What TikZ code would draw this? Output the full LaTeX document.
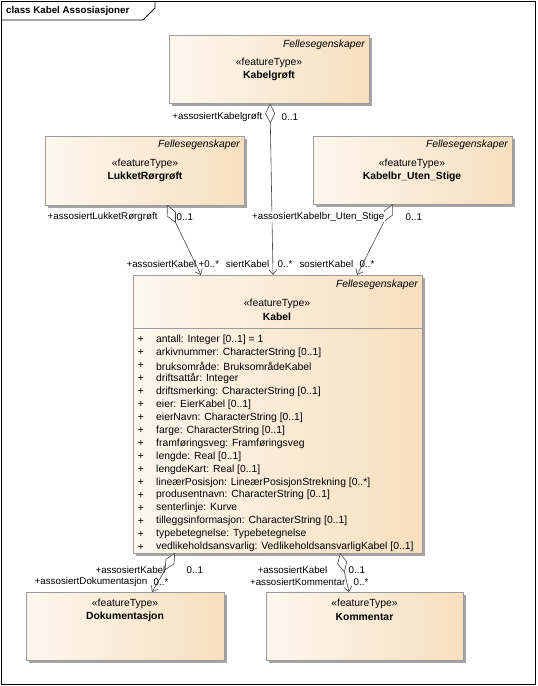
\documentclass[tikz,border=0pt]{standalone}
\usepackage{fontspec}
\setmainfont{Liberation Sans}
\usetikzlibrary{arrows.meta,shadows}
\definecolor{boxl}{RGB}{253,247,238}
\definecolor{boxr}{RGB}{247,223,190}
\definecolor{boxb}{RGB}{155,155,155}
\definecolor{shad}{RGB}{165,165,165}
\definecolor{linec}{RGB}{70,70,70}
\newcommand\lblfont{\fontsize{9.8}{11}\selectfont}
\newcommand\boxfont{\fontsize{10.4}{12}\selectfont}
\tikzset{
  cls/.style={draw=boxb, line width=0.8bp, left color=boxl, right color=boxr, anchor=north west, inner sep=0,
    general shadow={fill=shad, shadow xshift=3bp, shadow yshift=-3bp}},
  lbl/.style={font=\lblfont, inner sep=0.5bp, text=black},
  ital/.style={font=\boxfont\itshape, inner sep=0, anchor=east},
  stereo/.style={font=\boxfont, inner sep=0},
  cname/.style={font=\boxfont\bfseries, inner sep=0},
  attr/.style={font=\boxfont, inner sep=0},
  assoc/.style={draw=linec, line width=0.6bp,
    {Diamond[open,fill=white,length=20bp,width=10bp]}-{Straight Barb[length=5bp,width=8bp]}},
}
\begin{document}
\begin{tikzpicture}[x=1bp,y=-1bp]
\useasboundingbox (0,0) rectangle (538,686);
% frame
\draw[line width=0.8bp] (1.5,1.5) rectangle (535.5,684.5);
\draw[line width=0.8bp] (1.5,20) -- (143,20) -- (155,8) -- (155,1.5);
\node[anchor=west, font=\lblfont\bfseries, inner sep=0] (title) at (6,10.5) {class Kabel Assosiasjoner};

% classes
\node[cls, minimum width=200bp, minimum height=68bp] (kabelgroft) at (169,35) {};
\node[ital] (kgf) at (365,45) {Fellesegenskaper};
\node[stereo] (kgs) at (269,63) {«featureType»};
\node[cname] (kgn) at (269,76) {Kabelgrøft};

\node[cls, minimum width=199bp, minimum height=69bp] (lukket) at (45,136) {};
\node[ital] (lrf) at (240,145) {Fellesegenskaper};
\node[stereo] (lrs) at (145,164) {«featureType»};
\node[cname] (lrn) at (145,177) {LukketRørgrøft};

\node[cls, minimum width=199bp, minimum height=68bp] (kabelbr) at (313,136) {};
\node[ital] (kbf) at (508,145) {Fellesegenskaper};
\node[stereo] (kbs) at (412,164) {«featureType»};
\node[cname] (kbn) at (412,177) {Kabelbr\_Uten\_Stige};

\node[cls, minimum width=289bp, minimum height=278bp] (kabel) at (133,275) {};
\node[ital] (kaf) at (418,285) {Fellesegenskaper};
\node[stereo] (kas) at (277,304) {«featureType»};
\node[cname] (kan) at (277,317) {Kabel};
\draw[boxb, line width=0.8bp] (133,328.5) -- (422,328.5);
\foreach \t [count=\i from 0] in {
  {antall: Integer [0..1] = 1},
  {arkivnummer: CharacterString [0..1]},
  {bruksområde: BruksområdeKabel},
  {driftsattår: Integer},
  {driftsmerking: CharacterString [0..1]},
  {eier: EierKabel [0..1]},
  {eierNavn: CharacterString [0..1]},
  {farge: CharacterString [0..1]},
  {framføringsveg: Framføringsveg},
  {lengde: Real [0..1]},
  {lengdeKart: Real [0..1]},
  {lineærPosisjon: LineærPosisjonStrekning [0..*]},
  {produsentnavn: CharacterString [0..1]},
  {senterlinje: Kurve},
  {tilleggsinformasjon: CharacterString [0..1]},
  {typebetegnelse: Typebetegnelse},
  {vedlikeholdsansvarlig: VedlikeholdsansvarligKabel [0..1]}} {
  \node[attr, anchor=center] (plus\i) at (141,340+12.94*\i) {+};
  \node[attr, anchor=west] (attr\i) at (156,340+12.94*\i) {\t};
}

\node[cls, minimum width=198bp, minimum height=68bp] (dok) at (26,592) {};
\node[stereo] (dks) at (125,604) {«featureType»};
\node[cname] (dkn) at (125,617) {Dokumentasjon};

\node[cls, minimum width=197bp, minimum height=68bp] (kom) at (266,592) {};
\node[stereo] (kms) at (364.5,604) {«featureType»};
\node[cname] (kmn) at (364.5,617) {Kommentar};

% connector endpoints
\coordinate (c1s) at (270,103.5);
\coordinate (c1e) at (273,275);
\coordinate (c2s) at (167,205);
\coordinate (c2e) at (201,275);
\coordinate (c3s) at (393,204);
\coordinate (c3e) at (357,275);
\coordinate (c4s) at (175,553);
\coordinate (c4e) at (152,592);
\coordinate (c5s) at (340,553);
\coordinate (c5e) at (349,592);

\draw[assoc] (c1s) -- (c1e);
\draw[assoc] (c2s) -- (c2e);
\draw[assoc] (c3s) -- (c3e);
\draw[assoc] (c4s) -- (c4e);
\draw[assoc] (c5s) -- (c5e);

% labels
\node[lbl, anchor=east] (l1a) at (263,117) {+assosiertKabelgrøft};
\node[lbl, anchor=west] (l1b) at (281,117) {0..1};
\node[lbl, anchor=west] (l2a) at (47,217) {+assosiertLukketRørgrøft};
\node[lbl, anchor=west] (l2b) at (176,217) {0..1};
\node[lbl, fill=white, anchor=east] (l3a) at (385,217) {+assosiertKabelbr\_Uten\_Stige};
\node[lbl, anchor=west] (l3b) at (405,217) {0..1};

\node[lbl, anchor=east] (r1a) at (197,264) {+assosiertKabel};
\node[lbl, anchor=west] (r1b) at (198,264) {+0..*};
\node[lbl, anchor=east] (r2a) at (270,264) {siertKabel};
\node[lbl, anchor=west] (r2b) at (277,264) {0..*};
\node[lbl, anchor=east] (r3a) at (354,264) {sosiertKabel};
\node[lbl, anchor=west] (r3b) at (359,264) {0..*};

\node[lbl, anchor=east] (b1a) at (166,570) {+assosiertKabel};
\node[lbl, anchor=west] (b1b) at (186,570) {0..1};
\node[lbl, anchor=east] (b1c) at (148,582) {+assosiertDokumentasjon};
\node[lbl, anchor=west] (b1d) at (153,582) {0..*};
\node[lbl, anchor=east] (b2a) at (328,570) {+assosiertKabel};
\node[lbl, anchor=west] (b2b) at (348,570) {0..1};
\node[lbl, anchor=east] (b2c) at (346,582) {+assosiertKommentar};
\node[lbl, anchor=west] (b2d) at (353,582) {0..*};
\end{tikzpicture}
\end{document}
